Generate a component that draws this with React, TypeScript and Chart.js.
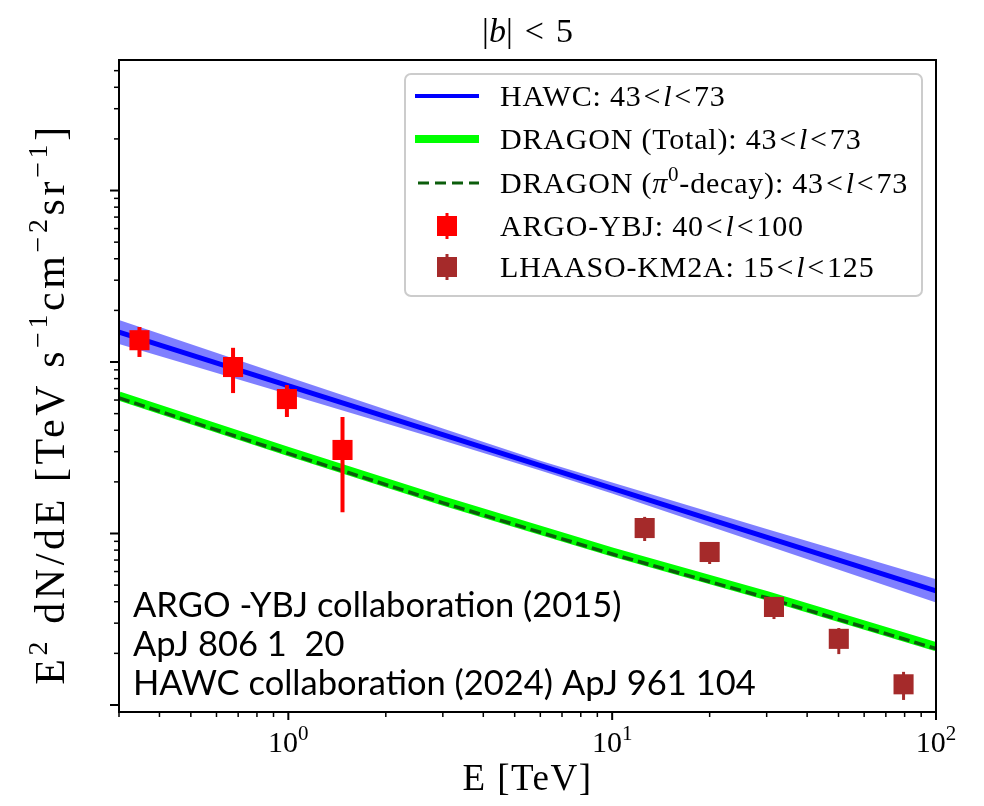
import React, { useEffect, useRef } from 'react';
import { Chart, registerables } from 'chart.js';

Chart.register(...registerables);

// ---------------- data ----------------
const xRange = [0.3, 100];
const yRange = [9.1e-14, 5.77e-10];

const hawcEnergy = [0.3, 100];
const hawcFlux = [1.496e-11, 4.63e-13];
const hawcBandEnergy = [0.3, 1, 3, 6, 10, 30, 100];
const hawcBandUpper = [1.758e-11, 8.17e-12, 4.09e-12, 2.66e-12, 1.98e-12, 1.063e-12, 5.41e-13];
const hawcBandLower = [1.273e-11, 6.49e-12, 3.48e-12, 2.33e-12, 1.71e-12, 8.52e-13, 3.96e-13];

const dragonEnergy = [0.3, 1, 3, 10, 30, 100];
const dragonTotal = [6.34e-12, 3.01e-12, 1.55e-12, 7.8e-13, 4.34e-13, 2.19e-13];
const dragonPi0 = [6.17e-12, 2.93e-12, 1.51e-12, 7.59e-13, 4.22e-13, 2.13e-13];

const argoEnergy = [0.347, 0.675, 0.99, 1.47];
const argoFlux = [1.34e-11, 9.35e-12, 6.08e-12, 3.07e-12];
const argoUpper = [1.6e-11, 1.21e-11, 7.34e-12, 4.78e-12];
const argoLower = [1.07e-11, 6.59e-12, 4.78e-12, 1.33e-12];

const lhaasoEnergy = [12.6, 20.0, 31.6, 50.1, 79.4];
const lhaasoFlux = [1.076e-12, 7.8e-13, 3.73e-13, 2.43e-13, 1.32e-13];
const lhaasoUpper = [1.25e-12, 8.91e-13, 4.26e-13, 2.81e-13, 1.56e-13];
const lhaasoLower = [9.04e-13, 6.64e-13, 3.17e-13, 1.98e-13, 1.07e-13];

const xTickValues = [1, 10, 100];
const xTickExponents = ['0', '1', '2'];

const annotationLines = [
  'ARGO -YBJ collaboration (2015)',
  'ApJ 806 1  20',
  'HAWC collaboration (2024) ApJ 961 104',
];

// ---------------- helpers ----------------
const SERIF = "'Liberation Serif', 'DejaVu Serif', serif";
const SANS = "Lato, 'Open Sans', sans-serif";

type Seg = { t: string; f: string; dy?: number; pl?: number; pr?: number; ls?: number };

function setSeg(ctx: CanvasRenderingContext2D, s: Seg) {
  ctx.font = s.f;
  (ctx as any).letterSpacing = `${s.ls || 0}px`;
}

function measureRich(ctx: CanvasRenderingContext2D, segs: Seg[]) {
  let w = 0;
  for (const s of segs) {
    setSeg(ctx, s);
    w += (s.pl || 0) + ctx.measureText(s.t).width + (s.pr || 0);
  }
  return w;
}

function drawRich(
  ctx: CanvasRenderingContext2D,
  segs: Seg[],
  x: number,
  y: number,
  align: 'left' | 'center' = 'left'
) {
  const w = measureRich(ctx, segs);
  let cx = align === 'center' ? x - w / 2 : x;
  ctx.textAlign = 'left';
  ctx.textBaseline = 'alphabetic';
  for (const s of segs) {
    setSeg(ctx, s);
    cx += s.pl || 0;
    ctx.fillText(s.t, cx, y + (s.dy || 0));
    cx += ctx.measureText(s.t).width + (s.pr || 0);
  }
  (ctx as any).letterSpacing = '0px';
}

const toPoints = (xs: number[], ys: number[]) => xs.map((x, i) => ({ x, y: ys[i] }));

const decorPlugin = {
  id: 'decor',
  beforeDatasetDraw(chart: any, args: any) {
    const ds = chart.data.datasets[args.index];
    if (!ds.errHigh) return;
    const ctx: CanvasRenderingContext2D = chart.ctx;
    const xs = chart.scales.x;
    const ys = chart.scales.y;
    ctx.save();
    ctx.strokeStyle = ds.errColor;
    ctx.lineWidth = ds.errWidth;
    ds.data.forEach((p: any, i: number) => {
      const px = xs.getPixelForValue(p.x);
      ctx.beginPath();
      ctx.moveTo(px, ys.getPixelForValue(ds.errHigh[i]));
      ctx.lineTo(px, ys.getPixelForValue(ds.errLow[i]));
      ctx.stroke();
    });
    ctx.restore();
  },
  afterDraw(chart: any) {
    const ctx: CanvasRenderingContext2D = chart.ctx;
    const area = chart.chartArea;
    const xs = chart.scales.x;
    const ys = chart.scales.y;
    ctx.save();
    ctx.fillStyle = '#000';
    ctx.strokeStyle = '#000';

    // ticks
    for (let n = -2; n <= 2; n++) {
      for (let k = 1; k <= 9; k++) {
        const v = k * Math.pow(10, n);
        if (v < xRange[0] * 0.999 || v > xRange[1] * 1.001) continue;
        const px = xs.getPixelForValue(v);
        const major = k === 1;
        ctx.lineWidth = major ? 2 : 1.5;
        ctx.beginPath();
        ctx.moveTo(px, area.bottom);
        ctx.lineTo(px, area.bottom + (major ? 8 : 5));
        ctx.stroke();
      }
    }
    for (let n = -15; n <= -8; n++) {
      for (let k = 1; k <= 9; k++) {
        const v = k * Math.pow(10, n);
        if (v < yRange[0] || v > yRange[1]) continue;
        const py = ys.getPixelForValue(v);
        const major = k === 1;
        ctx.lineWidth = major ? 2 : 1.5;
        ctx.beginPath();
        ctx.moveTo(area.left, py);
        ctx.lineTo(area.left - (major ? 9 : 5), py);
        ctx.stroke();
      }
    }

    // frame
    ctx.lineWidth = 2;
    ctx.strokeRect(area.left, area.top, area.right - area.left, area.bottom - area.top);

    // x tick labels
    xTickValues.forEach((v, i) => {
      const px = xs.getPixelForValue(v);
      drawRich(
        ctx,
        [
          { t: '10', f: `30px ${SERIF}` },
          { t: xTickExponents[i], f: `21px ${SERIF}`, dy: -12 },
        ],
        px,
        area.bottom + 40,
        'center'
      );
    });

    // x label
    drawRich(ctx, [{ t: 'E [TeV]', f: `37px ${SERIF}`, ls: 1.5 }], (area.left + area.right) / 2, 790, 'center');

    // y label
    ctx.save();
    ctx.translate(0, 404);
    ctx.rotate(-Math.PI / 2);
    const yf = `42px ${SERIF}`;
    const ysf = `28px ${SERIF}`;
    const yl = 3.6;
    drawRich(
      ctx,
      [
        { t: 'E', f: yf, ls: yl },
        { t: '2', f: ysf, dy: -17, ls: yl },
        { t: ' dN/dE [TeV s', f: yf, ls: yl },
        { t: '\u22121', f: ysf, dy: -17, ls: yl },
        { t: 'cm', f: yf, ls: yl },
        { t: '\u22122', f: ysf, dy: -17, ls: yl },
        { t: 'sr', f: yf, ls: yl },
        { t: '\u22121', f: ysf, dy: -17, ls: yl },
        { t: ']', f: yf, ls: yl },
      ],
      0,
      64,
      'center'
    );
    ctx.restore();

    // title
    const tf = `34px ${SERIF}`;
    drawRich(
      ctx,
      [
        { t: '|', f: tf },
        { t: 'b', f: `italic ${tf}` },
        { t: '|', f: tf, pr: 12 },
        { t: '<', f: tf, pr: 12 },
        { t: '5', f: tf },
      ],
      (area.left + area.right) / 2,
      42,
      'center'
    );

    // annotation
    ctx.fillStyle = '#000';
    annotationLines.forEach((line, i) => {
      drawRich(ctx, [{ t: line, f: `34.5px ${SANS}` }], area.left + 14, 617 + i * 39);
    });

    // legend
    const lx = area.left + 286;
    const lw = 517;
    const ly = area.top + 14;
    const lh = 222;
    ctx.beginPath();
    (ctx as any).roundRect(lx, ly, lw, lh, 6);
    ctx.fillStyle = 'rgba(255,255,255,0.85)';
    ctx.fill();
    ctx.strokeStyle = '#cccccc';
    ctx.lineWidth = 2;
    ctx.stroke();

    const hx0 = lx + 10;
    const hx1 = lx + 74;
    const tx = lx + 95;
    const LS = 0.8;
    const lf = `30px ${SERIF}`;
    const lfi = `italic 30px ${SERIF}`;
    const range = (a: string, b: string): Seg[] => [
      { t: a, f: lf, pr: 2, ls: LS },
      { t: '<', f: lf, pr: 2, ls: LS },
      { t: 'l', f: lfi, pr: 2, ls: LS },
      { t: '<', f: lf, pr: 2, ls: LS },
      { t: b, f: lf, ls: LS },
    ];
    const rows = [
      { y: ly + 22, segs: [{ t: 'HAWC: ', f: lf, ls: LS }, ...range('43', '73')] },
      { y: ly + 65, segs: [{ t: 'DRAGON (Total): ', f: lf, ls: LS }, ...range('43', '73')] },
      {
        y: ly + 109,
        segs: [
          { t: 'DRAGON (', f: lf, ls: LS },
          { t: '\u03c0', f: lfi, ls: LS },
          { t: '0', f: `21px ${SERIF}`, dy: -12, ls: LS },
          { t: '-decay): ', f: lf, ls: LS },
          ...range('43', '73'),
        ],
      },
      { y: ly + 152, segs: [{ t: 'ARGO-YBJ: ', f: lf, ls: LS }, ...range('40', '100')] },
      { y: ly + 193, segs: [{ t: 'LHAASO-KM2A: ', f: lf, ls: LS }, ...range('15', '125')] },
    ];
    ctx.fillStyle = '#000';
    rows.forEach((r) => drawRich(ctx, r.segs as Seg[], tx, r.y + 10));

    // handles
    ctx.lineCap = 'butt';
    ctx.strokeStyle = '#0000ff';
    ctx.lineWidth = 4;
    ctx.beginPath();
    ctx.moveTo(hx0, rows[0].y);
    ctx.lineTo(hx1, rows[0].y);
    ctx.stroke();
    ctx.strokeStyle = '#00ff00';
    ctx.lineWidth = 8;
    ctx.beginPath();
    ctx.moveTo(hx0, rows[1].y);
    ctx.lineTo(hx1, rows[1].y);
    ctx.stroke();
    ctx.strokeStyle = '#0b5d0b';
    ctx.lineWidth = 3;
    ctx.setLineDash([11, 6]);
    ctx.beginPath();
    ctx.moveTo(hx0 + 3, rows[2].y);
    ctx.lineTo(hx1, rows[2].y);
    ctx.stroke();
    ctx.setLineDash([]);
    const mk = (cy: number, color: string) => {
      const cx = (hx0 + hx1) / 2;
      ctx.strokeStyle = color;
      ctx.lineWidth = 3;
      ctx.beginPath();
      ctx.moveTo(cx, cy - 13);
      ctx.lineTo(cx, cy + 13);
      ctx.stroke();
      ctx.fillStyle = color;
      ctx.fillRect(cx - 10, cy - 10, 20, 20);
    };
    mk(rows[3].y, '#ff0000');
    mk(rows[4].y, '#a52a2a');

    ctx.restore();
  },
};

export default function App() {
  const ref = useRef<HTMLCanvasElement>(null);
  useEffect(() => {
    if (!ref.current) return;
    const chart = new Chart(ref.current, {
      type: 'scatter',
      data: {
        datasets: [
          {
            label: 'HAWC band upper',
            data: toPoints(hawcBandEnergy, hawcBandUpper),
            showLine: true,
            borderWidth: 0,
            pointRadius: 0,
            backgroundColor: 'rgba(0,0,255,0.5)',
            fill: '+1',
            order: 10,
          } as any,
          {
            label: 'HAWC band lower',
            data: toPoints(hawcBandEnergy, hawcBandLower),
            showLine: true,
            borderWidth: 0,
            pointRadius: 0,
            fill: false,
            order: 9,
          },
          {
            label: 'HAWC: 43<l<73',
            data: toPoints(hawcEnergy, hawcFlux),
            showLine: true,
            borderColor: '#0000ff',
            borderWidth: 5,
            pointRadius: 0,
            fill: false,
            order: 8,
          },
          {
            label: 'DRAGON (Total): 43<l<73',
            data: toPoints(dragonEnergy, dragonTotal),
            showLine: true,
            borderColor: '#00ff00',
            borderWidth: 9,
            pointRadius: 0,
            fill: false,
            order: 7,
          },
          {
            label: 'DRAGON (pi0-decay): 43<l<73',
            data: toPoints(dragonEnergy, dragonPi0),
            showLine: true,
            borderColor: '#0b5d0b',
            borderWidth: 3.5,
            borderDash: [11, 5],
            pointRadius: 0,
            fill: false,
            order: 6,
          },
          {
            label: 'ARGO-YBJ: 40<l<100',
            data: toPoints(argoEnergy, argoFlux),
            pointStyle: 'rect',
            pointRadius: 14.2,
            pointHoverRadius: 14.2,
            backgroundColor: '#ff0000',
            borderWidth: 0,
            errHigh: argoUpper,
            errLow: argoLower,
            errColor: '#ff0000',
            errWidth: 4,
            order: 2,
          } as any,
          {
            label: 'LHAASO-KM2A: 15<l<125',
            data: toPoints(lhaasoEnergy, lhaasoFlux),
            pointStyle: 'rect',
            pointRadius: 14.2,
            pointHoverRadius: 14.2,
            backgroundColor: '#a52a2a',
            borderWidth: 0,
            errHigh: lhaasoUpper,
            errLow: lhaasoLower,
            errColor: '#a52a2a',
            errWidth: 3,
            order: 1,
          } as any,
        ],
      },
      options: {
        responsive: false,
        animation: false,
        layout: { padding: { left: 119, top: 60, right: 48, bottom: 94 } },
        scales: {
          x: { type: 'logarithmic', min: xRange[0], max: xRange[1], display: false },
          y: { type: 'logarithmic', min: yRange[0], max: yRange[1], display: false },
        },
        plugins: {
          legend: { display: false },
          tooltip: { enabled: false },
          title: { display: false },
        },
        events: [],
      },
      plugins: [decorPlugin],
    });
    return () => chart.destroy();
  }, []);

  return (
    <div style={{ position: 'fixed', left: 0, top: 0, width: 984, height: 806, background: '#fff' }}>
      <canvas ref={ref} width={984} height={806} style={{ width: 984, height: 806 }} />
    </div>
  );
}
